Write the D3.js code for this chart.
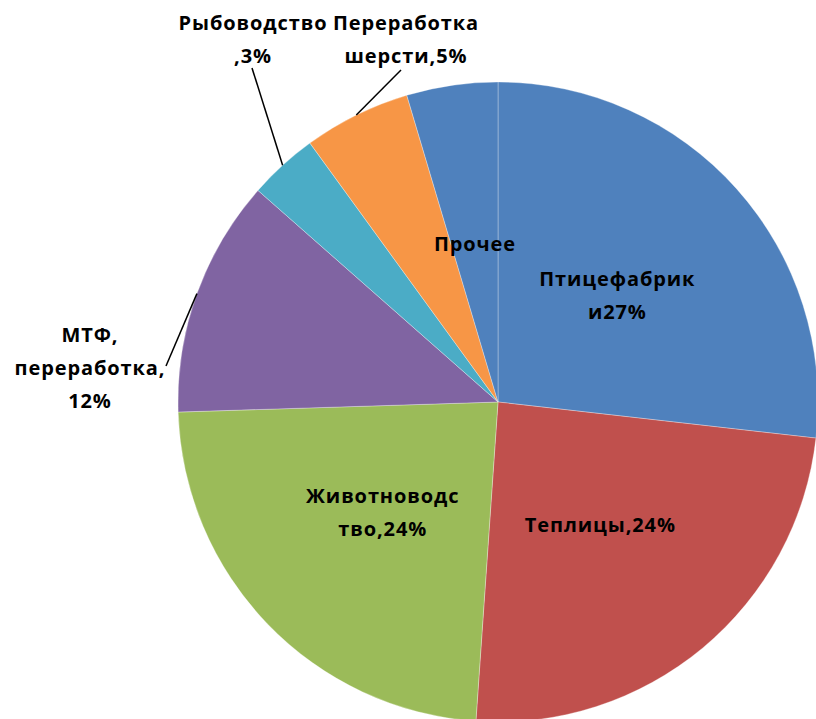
<!DOCTYPE html>
<meta charset="utf-8">
<style>
  body { margin: 0; background: #fff; }
  .lbl { font-family: "Open Sans", sans-serif; font-weight: 700; font-size: 20px; letter-spacing: 0.9px; fill: #000; }
</style>
<body>
<div id="vis"></div>
<script src="https://cdn.jsdelivr.net/npm/d3@7/dist/d3.min.js"></script>
<script>

// slice shares, clockwise from 12 o'clock
const names = ['Птицефабрики', 'Теплицы', 'Животноводство', 'МТФ, переработка', 'Рыбоводство', 'Переработка шерсти', 'Прочее'];
const shares = [26.8, 24.3, 23.4, 12.0, 3.5, 5.4, 4.6];
// label text as it appears, one array entry per line
const labelLines = [
  ['Птицефабрик', 'и27%'],
  ['Теплицы,24%'],
  ['Животноводс', 'тво,24%'],
  ['МТФ,', 'переработка,', '12%'],
  ['Рыбоводство', ',3%'],
  ['Переработка', 'шерсти,5%'],
  ['Прочее']
];
const colors = ['#4F81BD', '#C0504D', '#9BBB59', '#8064A2', '#4BACC6', '#F79646', '#4F81BD'];

const width = 816, height = 719;
const cx = 498, cy = 402, R = 320;
const lineH = 33;

// outside labels: block centre and where the leader line stops
const outside = {
  3: {x: 90, y: 368, end: [166, 366]},
  4: {x: 253, y: 39, end: [252, 68]},
  5: {x: 406, y: 39, end: [401, 70]}
};

const svg = d3.select('#vis').append('svg')
    .attr('width', width)
    .attr('height', height);

const g = svg.append('g')
    .attr('transform', 'translate(' + cx + ',' + cy + ')');

const pie = d3.pie().sort(null).value(d => d);
const arcs = pie(shares);

const arc = d3.arc().innerRadius(0).outerRadius(R);
const midArc = d3.arc().innerRadius(R * 0.5).outerRadius(R * 0.5);
const edgeArc = d3.arc().innerRadius(R).outerRadius(R);

g.selectAll('.slice')
  .data(arcs)
  .enter().append('path')
  .attr('class', 'slice')
  .attr('d', arc)
  .style('fill', (d, i) => colors[i])
  .style('stroke', 'rgba(255,255,255,0.3)')
  .style('stroke-width', 1);

// leader lines
g.selectAll('.leader')
  .data(arcs.filter((d, i) => outside[i]))
  .enter().append('line')
  .attr('class', 'leader')
  .attr('x1', d => edgeArc.centroid(d)[0])
  .attr('y1', d => edgeArc.centroid(d)[1])
  .attr('x2', d => outside[d.index].end[0] - cx)
  .attr('y2', d => outside[d.index].end[1] - cy)
  .style('stroke', '#000')
  .style('stroke-width', 1.5);

const labels = svg.selectAll('.lbl')
  .data(arcs)
  .enter().append('text')
  .attr('class', 'lbl')
  .attr('text-anchor', 'middle')
  .each(function(d, i) {
    let p;
    if (outside[i]) p = [outside[i].x, outside[i].y];
    else {
      let c = midArc.centroid(d);
      p = [c[0] + cx, c[1] + cy];
    }
    let lines = labelLines[i];
    d3.select(this).selectAll('tspan')
      .data(lines)
      .enter().append('tspan')
      .attr('x', p[0])
      .attr('y', (t, k) => p[1] + (k - (lines.length - 1) / 2) * lineH)
      .attr('dy', '0.35em')
      .text(t => t);
  });

</script>
</body>
